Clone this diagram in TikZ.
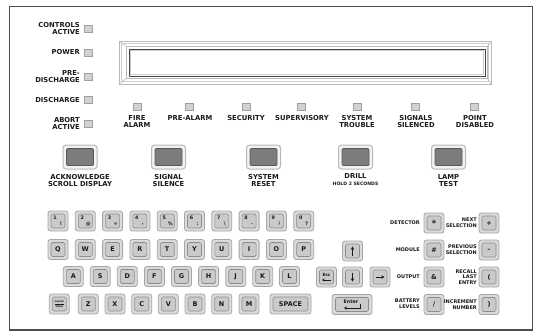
\documentclass[tikz,border=0pt]{standalone}
\usepackage{fontspec}
\setmainfont{DejaVu Sans}
\usetikzlibrary{arrows.meta}
\definecolor{txt}{HTML}{1A1A1A}
\definecolor{keyedge}{HTML}{A6A6A6}
\definecolor{keyfill}{HTML}{DADADA}
\definecolor{keyinedge}{HTML}{8C8C8C}
\definecolor{keyinfill}{HTML}{CACACA}
\definecolor{btninner}{HTML}{7C7C7C}
\definecolor{btninedge}{HTML}{5A5A5A}
\definecolor{frm}{HTML}{4E4E4E}
\definecolor{ledfill}{HTML}{D2D2D2}
\definecolor{ledge}{HTML}{A0A0A0}
\tikzset{
  lbl/.style={font=\fontsize{6.8}{7}\selectfont\bfseries, text=txt, align=center, inner sep=0pt},
  lblr/.style={lbl, align=right, anchor=east},
  smalllbl/.style={font=\fontsize{5}{5.8}\selectfont\bfseries, text=txt, align=right, anchor=east, inner sep=0pt},
  led/.style={draw=ledge, fill=ledfill, line width=0.7, minimum width=8, minimum height=7, inner sep=0pt},
  btnout/.style={draw=gray!55, line width=1, fill=gray!10, rounded corners=3, minimum width=34, minimum height=24, inner sep=0pt},
  btnin/.style={draw=btninedge, line width=0.7, fill=btninner, rounded corners=1, minimum width=27, minimum height=17, inner sep=0pt},
  keyo/.style={draw=keyedge, fill=keyfill, line width=0.8, rounded corners=2.5, minimum width=20, minimum height=20, inner sep=0pt},
  keyi/.style={draw=keyinedge, fill=keyinfill, line width=0.6, rounded corners=1.5, minimum width=14, minimum height=14, inner sep=0pt, font=\fontsize{6.5}{7}\selectfont\bfseries, text=txt},
  dig/.style={font=\fontsize{4.8}{5}\selectfont\bfseries, text=txt, inner sep=0pt},
  karrow/.style={-{Stealth[length=3.2,width=3.6]}, line width=1, draw=txt},
}
\newcommand\kkey[4]{%
  \node[keyo] (#1) at (#2,#3) {};
  \node[keyi] (#1i) at (#2,#3) {#4};}
\newcommand\kwide[6]{%
  \node[keyo, minimum width=#4] (#1) at (#2,#3) {};
  \node[keyi, minimum width=#5] (#1i) at (#2,#3) {#6};}
\newcommand\nkey[4]{%
  \node[keyo] (#1) at (#2,221) {};
  \node[keyi] (#1i) at (#2,221) {};
  \node[dig] (#1a) at ([shift={(-3,-3)}]#1.center) {#3};
  \node[dig] (#1b) at ([shift={(3,3)}]#1.center) {#4};}
\begin{document}
\begin{tikzpicture}[x=1pt,y=-1pt]
\path[use as bounding box] (0,0) rectangle (538,335);
\fill[white] (0,0) rectangle (538,335);
% frame
\draw[frm, line width=1] (9,6) rectangle (532,330);
\draw[frm, line width=2] (9,330) -- (532,330);

% left indicators
\node[lblr] (lca) at (80,28.4) {CONTROLS\\ACTIVE};
\node[led] (ledca) at (88,29) {};
\node[lblr] (lpw) at (80,52.5) {POWER};
\node[led] (ledpw) at (88,52.5) {};
\node[lblr] (lpd) at (80,76.5) {PRE-\\DISCHARGE};
\node[led] (ledpd) at (88,76.5) {};
\node[lblr] (ldc) at (80,100) {DISCHARGE};
\node[led] (leddc) at (88,100) {};
\node[lblr] (lab) at (80,123.5) {ABORT\\ACTIVE};
\node[led] (ledab) at (88,123.5) {};

% display
\draw[gray!55, line width=0.8] (119,41) rectangle (491,84);
\draw[gray!40, line width=0.6] (121.5,43.5) rectangle (488.5,81.5);
\draw[gray!55, line width=0.7] (126.5,46.5) rectangle (487.5,78.5);
\draw[gray!55, line width=0.6] (119,41) -- (126.5,46.5) (491,41) -- (487.5,46.5)
  (119,84) -- (126.5,78.5) (491,84) -- (487.5,78.5);
\node[draw=gray!55!black, line width=0.9, fill=white, minimum width=356, minimum height=27, inner sep=0pt] (disp) at (307,62.5) {};
\draw[gray!40, line width=0.5] (130.5,50.5) rectangle (483.5,74.5);

% LED row
\foreach \nm/\xx in {fa/137, pa/189, se/246, su/301, st/357, ss/415, pd/474}{
  \node[led] (led\nm) at (\xx,106.5) {};
}
\node[lbl] (tfa) at (137,121.3) {FIRE\\ALARM};
\node[lbl] (tpa) at (190,118) {PRE-ALARM};
\node[lbl] (tse) at (246,118) {SECURITY};
\node[lbl] (tsu) at (302,118) {SUPERVISORY};
\node[lbl] (tst) at (357,121.3) {SYSTEM\\TROUBLE};
\node[lbl] (tss) at (416,121.3) {SIGNALS\\SILENCED};
\node[lbl] (tpd) at (475,121.3) {POINT\\DISABLED};

% big buttons
\foreach \nm/\xx in {ack/80, sil/168.5, rst/263.5, drl/355.5, lmp/448.5}{
  \node[btnout] (b\nm) at (\xx,157) {};
  \node[btnin] (b\nm i) at (\xx,157) {};
}
\node[lbl] (tack) at (80,180.3) {ACKNOWLEDGE\\SCROLL DISPLAY};
\node[lbl] (tsil) at (168.5,180.3) {SIGNAL\\SILENCE};
\node[lbl] (trst) at (263.5,180.3) {SYSTEM\\RESET};
\node[lbl] (tdrl) at (355.5,176) {DRILL};
\node[lbl, font=\fontsize{4.6}{5}\selectfont\bfseries] (tdrl2) at (355.5,183.7) {HOLD 2 SECONDS};
\node[lbl] (tlmp) at (448.5,180.3) {LAMP\\TEST};

% number row
\nkey{n1}{58}{1}{!}
\nkey{n2}{85.3}{2}{@}
\nkey{n3}{112.6}{3}{=}
\nkey{n4}{139.9}{4}{,}
\nkey{n5}{167.2}{5}{\%}
\nkey{n6}{194.5}{6}{:}
\nkey{n7}{221.8}{7}{\textbackslash}
\nkey{n8}{249.1}{8}{.}
\nkey{n9}{276.4}{9}{;}
\nkey{n0}{303.7}{0}{?}

% QWERTY row
\kkey{kq}{58}{249.5}{Q}
\kkey{kw}{85.3}{249.5}{W}
\kkey{ke}{112.6}{249.5}{E}
\kkey{kr}{139.9}{249.5}{R}
\kkey{kt}{167.2}{249.5}{T}
\kkey{ky}{194.5}{249.5}{Y}
\kkey{ku}{221.8}{249.5}{U}
\kkey{ki}{249.1}{249.5}{I}
\kkey{ko}{276.4}{249.5}{O}
\kkey{kp}{303.7}{249.5}{P}

% ASDF row
\kkey{ka}{73.3}{276.5}{A}
\kkey{ks}{100.3}{276.5}{S}
\kkey{kd}{127.3}{276.5}{D}
\kkey{kf}{154.4}{276.5}{F}
\kkey{kg}{181.5}{276.5}{G}
\kkey{kh}{208.6}{276.5}{H}
\kkey{kj}{235.7}{276.5}{J}
\kkey{kk}{262.7}{276.5}{K}
\kkey{kl}{289.5}{276.5}{L}

% ZXCV row
\kkey{klc}{59.3}{304}{}
\node[dig, font=\fontsize{2.8}{3}\selectfont\bfseries] (lcl) at ([yshift=2.5]klc.center) {Lower};
\node[dig, font=\fontsize{2.8}{3}\selectfont\bfseries] (lcc) at ([yshift=-2.5]klc.center) {Case};
\draw[txt, line width=0.4] ([xshift=-4.5]klc.center) -- ([xshift=4.5]klc.center);
\kkey{kz}{88.3}{304}{Z}
\kkey{kx}{115}{304}{X}
\kkey{kc}{141.7}{304}{C}
\kkey{kv}{168.3}{304}{V}
\kkey{kb}{195}{304}{B}
\kkey{kn}{221.7}{304}{N}
\kkey{km}{249}{304}{M}
\kwide{ksp}{290.5}{304}{41}{35}{SPACE}

% navigation keys
\kkey{kesc}{326.5}{277}{}
\node[dig, font=\fontsize{4.2}{4.5}\selectfont\bfseries] (esct) at ([yshift=2.5]kesc.center) {Esc};
\draw[karrow, -{Stealth[length=2.6,width=3]}] ([shift={(4.5,3)}]kesc.center) -- ([shift={(-4.5,3)}]kesc.center);
\kkey{kup}{352.5}{251}{}
\draw[karrow] ([yshift=-4.5]kup.center) -- ([yshift=4.5]kup.center);
\kkey{kdn}{352.5}{277}{}
\draw[karrow] ([yshift=4.5]kdn.center) -- ([yshift=-4.5]kdn.center);
\kkey{krt}{380}{277}{}
\draw[karrow] ([xshift=-4.5]krt.center) -- ([xshift=4.5]krt.center);
\kwide{kent}{352}{304.5}{40}{33}{}
\node[dig, font=\fontsize{4.8}{5}\selectfont\bfseries] (entt) at ([shift={(-1,-3)}]kent.center) {Enter};
\draw[karrow, -{Stealth[length=2.8,width=3.2]}] ([shift={(8,-1)}]kent.center) -- ([shift={(8,3.5)}]kent.center) -- ([shift={(-8,3.5)}]kent.center);

% right cluster
\kkey{kstar}{434}{223}{\fontsize{8.5}{8}\selectfont *}
\kkey{khash}{434}{250}{\#}
\kkey{kamp}{434}{277}{\&}
\kkey{kslash}{434}{304.5}{/}
\kkey{kplus}{489}{223}{+}
\kkey{kminus}{489}{250}{--}
\kkey{klp}{489}{277}{(}
\kkey{krp}{489}{304.5}{)}
\node[smalllbl] (tdet) at (420,223) {DETECTOR};
\node[smalllbl] (tmod) at (420,250) {MODULE};
\node[smalllbl] (tout) at (420,277) {OUTPUT};
\node[smalllbl] (tbat) at (420,303.5) {BATTERY\\LEVELS};
\node[smalllbl] (tnext) at (477,222.5) {NEXT\\SELECTION};
\node[smalllbl] (tprev) at (477,250) {PREVIOUS\\SELECTION};
\node[smalllbl] (trec) at (477,277) {RECALL\\LAST\\ENTRY};
\node[smalllbl] (tinc) at (477,304.5) {INCREMENT\\NUMBER};
\end{tikzpicture}
\end{document}
